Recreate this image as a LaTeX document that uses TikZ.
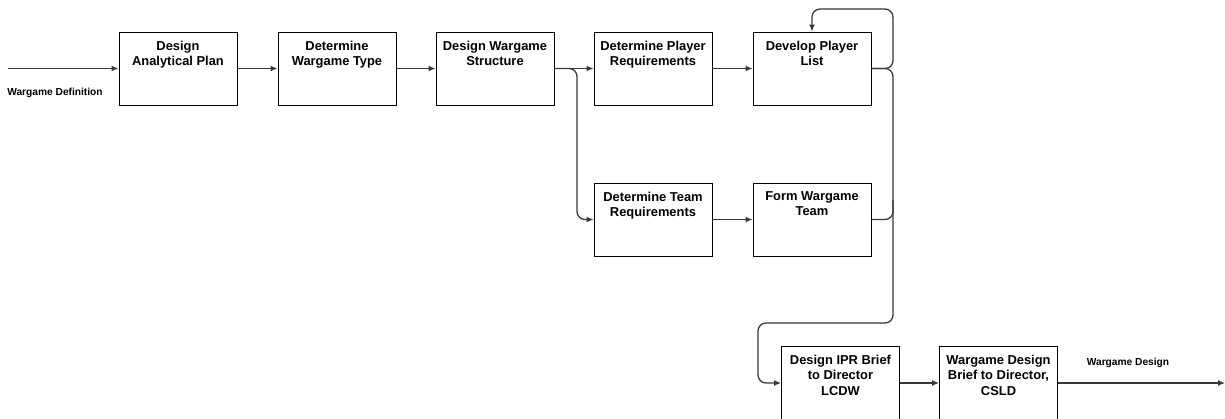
\documentclass[tikz,border=0pt]{standalone}
\usepackage{fontspec}
\setmainfont{Liberation Sans}
\usetikzlibrary{arrows.meta}
\begin{document}
\begin{tikzpicture}[x=1pt,y=-1pt,
  box/.style={draw=black,line width=0.9pt,minimum width=118pt,minimum height=73pt,inner sep=0pt,fill=white},
  boxtext/.style={anchor=north,inner sep=0pt,align=center,font=\fontsize{12.9}{15.3}\selectfont\bfseries,yshift=-9pt},
  lbl/.style={inner sep=0pt,font=\fontsize{10.2}{12}\selectfont\bfseries},
  conn/.style={draw=black!78,line width=1.3pt,-{Latex[length=7pt,width=6pt]}},
  connplain/.style={draw=black!78,line width=1.3pt},
]
\useasboundingbox (0,0) rectangle (1225,418);
% boxes
\node[box] (b1) at (178,68.5) {};
\node[box] (b2) at (337,68.5) {};
\node[box] (b3) at (495,68.5) {};
\node[box] (b4) at (653,68.5) {};
\node[box] (b5) at (812,68.5) {};
\node[box] (b6) at (653,219.5) {};
\node[box] (b7) at (812,219.5) {};
\node[box] (b8) at (840.5,383) {};
\node[box] (b9) at (998.5,383) {};
% texts
\node[boxtext] (t1) at (b1.north) {Design\\Analytical Plan};
\node[boxtext] (t2) at (b2.north) {Determine\\Wargame Type};
\node[boxtext] (t3) at (b3.north) {Design Wargame\\Structure};
\node[boxtext] (t4) at (b4.north) {Determine Player\\Requirements};
\node[boxtext] (t5) at (b5.north) {Develop Player\\List};
\node[boxtext] (t6) at (b6.north) {Determine Team\\Requirements};
\node[boxtext] (t7) at (b7.north) {Form Wargame\\Team};
\node[boxtext] (t8) at (b8.north) {Design IPR Brief\\to Director\\LCDW};
\node[boxtext] (t9) at (b9.north) {Wargame Design\\Brief to Director,\\CSLD};
% labels
\node[lbl] (lin) at (55,93) {Wargame Definition};
\node[lbl] (lout) at (1128,363) {Wargame Design};
% coordinates
\coordinate (in) at (8,68.5);
\coordinate (out) at (1225,383);
\coordinate (s3) at (577,68.5);
\coordinate (s5) at (893,68.5);
\coordinate (top5) at (893,9);
\coordinate (s7) at (893,219.5);
\coordinate (r1) at (893,323);
\coordinate (r2) at (758,323);
% connectors
\draw[conn] (in) -- (b1.west);
\draw[conn] (b1.east) -- (b2.west);
\draw[conn] (b2.east) -- (b3.west);
\draw[conn] (b3.east) -- (b4.west);
\draw[conn] (b4.east) -- (b5.west);
\draw[conn] (b6.east) -- (b7.west);
\draw[conn] (b8.east) -- (b9.west);
\draw[conn] (b9.east) -- (out);
\draw[conn,rounded corners=8pt] (b3.east) -- (s3) |- (b6.west);
\draw[conn,rounded corners=8pt] (b5.east) -- (s5) -- (top5) -| (b5.north);
\draw[conn,rounded corners=8pt] (b5.east) -- (s5) -- (r1) -- (r2) |- (b8.west);
\draw[connplain,rounded corners=8pt] (b7.east) -- (s7) -- ([yshift=20pt]s7);
\end{tikzpicture}
\end{document}
